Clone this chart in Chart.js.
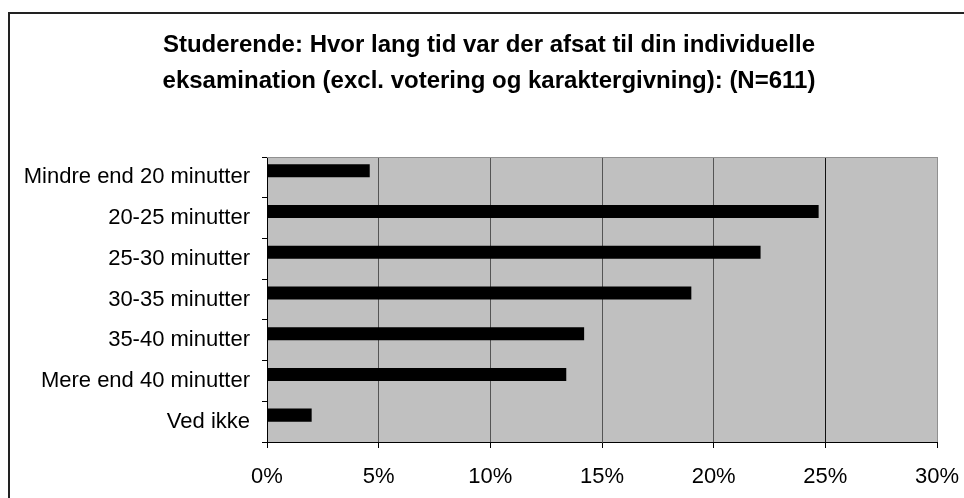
<!DOCTYPE html>
<html lang="da">
<head>
    <meta charset="UTF-8">
    <title>Studerende: eksaminationstid</title>
    <script src="https://cdn.jsdelivr.net/npm/chart.js"></script>
    <style>
        html, body { margin: 0; padding: 0; background: #fff; overflow: hidden; }
        .ramme { position: absolute; left: 8px; top: 12px; width: 1000px; height: 600px; border: 2px solid #222; box-sizing: border-box; }
        #graf { position: absolute; left: 0; top: 0; }
    </style>
</head>
<body>
    <div class="ramme"></div>
    <canvas id="graf" width="964" height="498"></canvas>

    <script>
        // data (procent af N=611)
        const kategorier = [
            'Mindre end 20 minutter',
            '20-25 minutter',
            '25-30 minutter',
            '30-35 minutter',
            '35-40 minutter',
            'Mere end 40 minutter',
            'Ved ikke'
        ];
        const andele = [4.6, 24.7, 22.1, 19.0, 14.2, 13.4, 2.0];
        const akseTicks = [0, 5, 10, 15, 20, 25, 30];
        const titel = [
            'Studerende: Hvor lang tid var der afsat til din individuelle',
            'eksamination (excl. votering og karaktergivning): (N=611)'
        ];

        // grå baggrund i plotområdet + kant foroven/højre
        const plotBaggrund = {
            id: 'plotBaggrund',
            afterLayout(chart) {
                // titlen står lidt til højre i originalen
                if (chart.titleBlock) {
                    chart.titleBlock.left = 14;
                    chart.titleBlock.right = 964;
                }
            },
            beforeDraw(chart) {
                const { ctx, chartArea: a } = chart;
                ctx.save();
                ctx.fillStyle = '#c0c0c0';
                ctx.fillRect(a.left, a.top, a.right - a.left, a.bottom - a.top);
                ctx.restore();
            },
            beforeDatasetsDraw(chart) {
                const { ctx, chartArea: a } = chart;
                ctx.save();
                ctx.strokeStyle = '#909090';
                ctx.lineWidth = 1;
                ctx.beginPath();
                ctx.moveTo(a.left, a.top + 0.5);
                ctx.lineTo(a.right + 0.5, a.top + 0.5);
                ctx.lineTo(a.right + 0.5, a.bottom);
                ctx.stroke();
                ctx.restore();
            }
        };

        const tekst = { family: "'Liberation Sans', Arial, sans-serif", size: 22 };

        new Chart(document.getElementById('graf'), {
            type: 'bar',
            data: {
                labels: kategorier,
                datasets: [
                    { label: 'Andel', data: andele, backgroundColor: '#000', borderWidth: 0 },
                    { label: '', data: [], backgroundColor: 'rgba(0,0,0,0)' } // tom plads under søjlerne som i Excel
                ]
            },
            options: {
                indexAxis: 'y',
                responsive: false,
                animation: false,
                devicePixelRatio: 1,
                barPercentage: 1,
                categoryPercentage: 0.64,
                layout: { padding: 0 },
                plugins: {
                    legend: { display: false },
                    tooltip: { enabled: false },
                    title: {
                        display: true,
                        text: titel,
                        color: '#000',
                        font: { family: "'Liberation Sans', Arial, sans-serif", size: 24, weight: 'bold', lineHeight: '36px' },
                        padding: { top: 27, bottom: 58 }
                    }
                },
                scales: {
                    x: {
                        min: 0,
                        max: 30,
                        afterBuildTicks(axis) {
                            axis.ticks = akseTicks.map(v => ({ value: v }));
                        },
                        afterFit(axis) {
                            axis.height = 56;
                            axis.paddingLeft = 0;
                            axis.paddingRight = 27;
                        },
                        ticks: {
                            color: '#000',
                            font: tekst,
                            padding: 16,
                            maxRotation: 0,
                            callback: v => v + '%'
                        },
                        grid: {
                            color: c => c.tick && c.tick.value === 30 ? '#909090' : (c.tick && c.tick.value === 25 ? '#111' : '#555'),
                            tickColor: '#000',
                            tickLength: 6
                        },
                        border: { display: true, color: '#000', width: 1 }
                    },
                    y: {
                        afterFit(axis) { axis.width = 267; },
                        ticks: { color: '#000', font: tekst, padding: 12 },
                        grid: {
                            offset: true,
                            drawOnChartArea: false,
                            drawTicks: true,
                            tickColor: '#000',
                            tickLength: 5
                        },
                        border: { display: true, color: '#000', width: 1 }
                    }
                }
            },
            plugins: [plotBaggrund]
        });
    </script>
</body>
</html>
